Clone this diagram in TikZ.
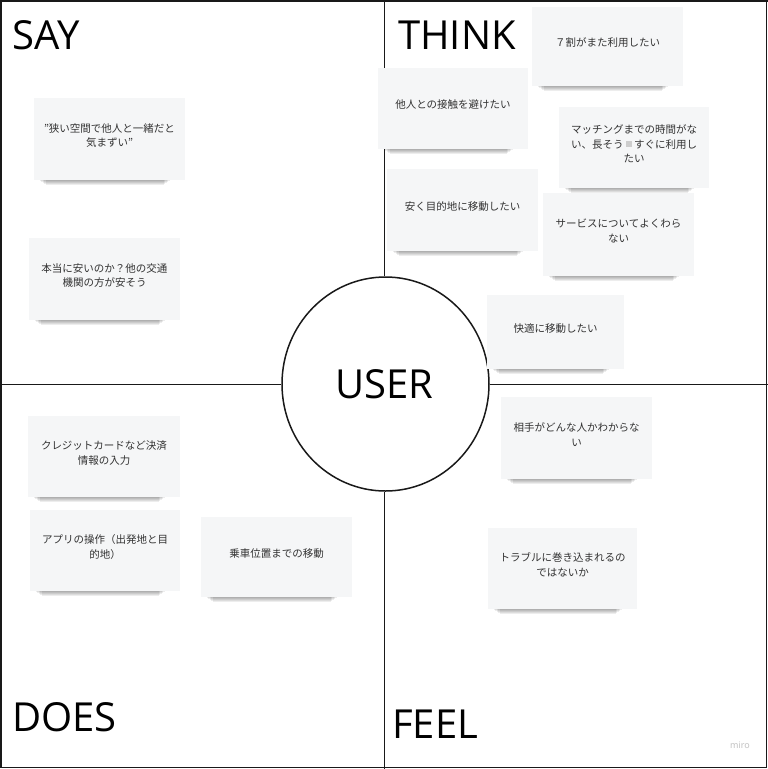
\documentclass[tikz,border=0pt]{standalone}
\usepackage{fontspec}
\setmainfont{Open Sans}
\newfontfamily\cjk{Noto Sans CJK JP}
\usetikzlibrary{shapes.geometric}
\definecolor{cardfill}{RGB}{245,246,247}
\definecolor{cardtextcol}{RGB}{50,50,50}
\definecolor{linecol}{RGB}{25,25,25}
\definecolor{blobcol}{RGB}{205,205,205}
\definecolor{mirocol}{RGB}{190,190,190}
\tikzset{
  cardbox/.style={draw=none, fill=cardfill, inner sep=0pt, outer sep=0pt},
  cardtext/.style={inner sep=0pt, align=center, text=cardtextcol, font=\cjk\fontsize{10.5}{14.5}\selectfont},
  title/.style={inner sep=0pt, anchor=base west, text=black, font=\fontsize{40}{44}\selectfont},
  divider/.style={draw=linecol, line width=1.5pt},
}
\newcommand\mycard[6]{%
  \foreach \i in {1,...,5}{\fill[black,opacity=0.07] ({#2+4+1.5*\i},{#3+#5-1}) rectangle ({#2+#4-14-1.5*\i},{#3+#5+0.9*\i});}
  \node[cardbox, minimum width=#4pt, minimum height=#5pt] (#1) at ({#2+#4/2},{#3+#5/2}) {};
  \node[cardtext] (#1t) at ([yshift=3.5pt]#1.center) {#6};
}
\newcommand\blob{\makebox[1em]{\textcolor{blobcol}{\rule[0.12em]{0.6em}{0.55em}}}}
\begin{document}
\begin{tikzpicture}[x=1pt,y=-1pt]
\useasboundingbox (0,0) rectangle (768,769);
\fill[white] (0,0) rectangle (768,769);
% frame
\draw[draw=linecol, line width=1.2pt] (1,1) rectangle (766.5,767.5);
\draw[draw=linecol, line width=2pt] (0,1) -- (768,1);
% centre
\node[ellipse, draw=linecol, line width=1.5pt, fill=white, minimum width=207pt, minimum height=214pt, inner sep=0pt] (user) at (385.5,384) {};
\coordinate (topc) at (384.5,0);
\coordinate (botc) at (384.5,769);
\coordinate (leftc) at (0,384.5);
\coordinate (rightc) at (768,384.5);
\draw[divider] (topc) -- (topc |- user.north);
\draw[divider] (botc) -- (botc |- user.south);
\draw[divider] (leftc) -- (leftc -| user.west);
\draw[divider] (rightc) -- (rightc -| user.east);
\node[inner sep=0pt, anchor=base, font=\fontsize{40}{44}\selectfont] (usertext) at (384.5,398) {USER};
% titles
\node[title] (say) at (12,49) {SAY};
\node[title] (think) at (398,49) {THINK};
\node[title] (does) at (12,731) {DOES};
\node[title] (feel) at (392,738) {FEEL};
% SAY
\mycard{c1}{34}{98}{151}{82}{”狭い空間で他人と一緒だと\\気まずい”}
\mycard{c2}{29}{238}{151}{82}{本当に安いのか？他の交通\\機関の方が安そう}
% THINK
\mycard{c3}{532}{7}{151}{79}{７割がまた利用したい}
\mycard{c4}{378}{68}{150}{81}{他人との接触を避けたい}
\mycard{c5}{559}{107}{150}{81}{マッチングまでの時間がな\\い、長そう\blob すぐに利用し\\たい}
\mycard{c6}{387}{169}{151}{82}{安く目的地に移動したい}
\mycard{c7}{543}{193}{151}{83}{サービスについてよくわら\\ない}
\mycard{c8}{487}{295}{137}{74}{快適に移動したい}
% DOES
\mycard{c9}{28}{416}{152}{81}{クレジットカードなど決済\\情報の入力}
\mycard{c10}{30}{510}{150}{81}{アプリの操作（出発地と目\\的地）}
\mycard{c11}{201}{517}{151}{80}{乗車位置までの移動}
% FEEL
\mycard{c12}{501}{397}{151}{82}{相手がどんな人かわからな\\い}
\mycard{c13}{488}{528}{149}{81}{トラブルに巻き込まれるの\\ではないか}
% watermark
\node[inner sep=0pt, text=mirocol, font=\fontsize{9}{10}\selectfont] (miro) at (740,745) {miro};
\end{tikzpicture}
\end{document}
